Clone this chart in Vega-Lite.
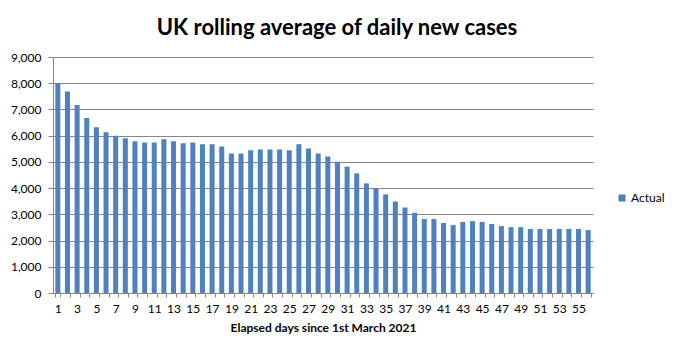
{
  "$schema": "https://vega.github.io/schema/vega-lite/v6.json",
  "autosize": "none",
  "width": 540,
  "height": 236,
  "padding": {"left": 53, "top": 57, "right": 83, "bottom": 63},
  "background": "white",
  "title": {
    "text": "UK rolling average of daily new cases",
    "font": "Lato",
    "fontSize": 22,
    "fontWeight": "bold",
    "color": "#000000",
    "anchor": "middle",
    "dx": 14,
    "offset": 11
  },
  "config": {
    "view": {"stroke": null},
    "font": "Lato"
  },
  "data": {
    "values": [
      {"day": 1, "cases": 8000, "series": "Actual"},
      {"day": 2, "cases": 7680, "series": "Actual"},
      {"day": 3, "cases": 7170, "series": "Actual"},
      {"day": 4, "cases": 6675, "series": "Actual"},
      {"day": 5, "cases": 6320, "series": "Actual"},
      {"day": 6, "cases": 6130, "series": "Actual"},
      {"day": 7, "cases": 5995, "series": "Actual"},
      {"day": 8, "cases": 5905, "series": "Actual"},
      {"day": 9, "cases": 5790, "series": "Actual"},
      {"day": 10, "cases": 5740, "series": "Actual"},
      {"day": 11, "cases": 5740, "series": "Actual"},
      {"day": 12, "cases": 5860, "series": "Actual"},
      {"day": 13, "cases": 5785, "series": "Actual"},
      {"day": 14, "cases": 5710, "series": "Actual"},
      {"day": 15, "cases": 5740, "series": "Actual"},
      {"day": 16, "cases": 5670, "series": "Actual"},
      {"day": 17, "cases": 5670, "series": "Actual"},
      {"day": 18, "cases": 5590, "series": "Actual"},
      {"day": 19, "cases": 5320, "series": "Actual"},
      {"day": 20, "cases": 5320, "series": "Actual"},
      {"day": 21, "cases": 5440, "series": "Actual"},
      {"day": 22, "cases": 5470, "series": "Actual"},
      {"day": 23, "cases": 5470, "series": "Actual"},
      {"day": 24, "cases": 5470, "series": "Actual"},
      {"day": 25, "cases": 5440, "series": "Actual"},
      {"day": 26, "cases": 5670, "series": "Actual"},
      {"day": 27, "cases": 5510, "series": "Actual"},
      {"day": 28, "cases": 5320, "series": "Actual"},
      {"day": 29, "cases": 5210, "series": "Actual"},
      {"day": 30, "cases": 5010, "series": "Actual"},
      {"day": 31, "cases": 4820, "series": "Actual"},
      {"day": 32, "cases": 4560, "series": "Actual"},
      {"day": 33, "cases": 4180, "series": "Actual"},
      {"day": 34, "cases": 4000, "series": "Actual"},
      {"day": 35, "cases": 3760, "series": "Actual"},
      {"day": 36, "cases": 3490, "series": "Actual"},
      {"day": 37, "cases": 3260, "series": "Actual"},
      {"day": 38, "cases": 3060, "series": "Actual"},
      {"day": 39, "cases": 2820, "series": "Actual"},
      {"day": 40, "cases": 2820, "series": "Actual"},
      {"day": 41, "cases": 2670, "series": "Actual"},
      {"day": 42, "cases": 2590, "series": "Actual"},
      {"day": 43, "cases": 2710, "series": "Actual"},
      {"day": 44, "cases": 2740, "series": "Actual"},
      {"day": 45, "cases": 2710, "series": "Actual"},
      {"day": 46, "cases": 2630, "series": "Actual"},
      {"day": 47, "cases": 2550, "series": "Actual"},
      {"day": 48, "cases": 2510, "series": "Actual"},
      {"day": 49, "cases": 2510, "series": "Actual"},
      {"day": 50, "cases": 2440, "series": "Actual"},
      {"day": 51, "cases": 2440, "series": "Actual"},
      {"day": 52, "cases": 2440, "series": "Actual"},
      {"day": 53, "cases": 2440, "series": "Actual"},
      {"day": 54, "cases": 2440, "series": "Actual"},
      {"day": 55, "cases": 2440, "series": "Actual"},
      {"day": 56, "cases": 2400, "series": "Actual"}
    ]
  },
  "mark": {"type": "bar"},
  "encoding": {
    "x": {
      "field": "day",
      "type": "ordinal",
      "sort": null,
      "scale": {"paddingInner": 0.48, "paddingOuter": 0.24},
      "axis": {
        "title": "Elapsed days since 1st March 2021",
        "titleFont": "Lato",
        "titleFontSize": 12,
        "titleFontWeight": "bold",
        "titleColor": "#000000",
        "titlePadding": 8,
        "labelAngle": 0,
        "labelFont": "Lato",
        "labelFontSize": 12,
        "labelColor": "#000000",
        "labelOverlap": false,
        "labelPadding": 6,
        "labelExpr": "datum.value % 2 == 1 ? datum.label : ''",
        "tickBand": "extent",
        "tickSize": 4,
        "tickColor": "#868686",
        "domainColor": "#868686",
        "grid": false
      }
    },
    "y": {
      "field": "cases",
      "type": "quantitative",
      "scale": {"domain": [0, 9000], "nice": false},
      "axis": {
        "title": null,
        "values": [0, 1000, 2000, 3000, 4000, 5000, 6000, 7000, 8000, 9000],
        "format": ",.0f",
        "labelFont": "Lato",
        "labelFontSize": 12,
        "labelColor": "#000000",
        "labelPadding": 7,
        "tickSize": 5,
        "tickColor": "#868686",
        "domainColor": "#868686",
        "gridColor": "#868686",
        "gridOpacity": 1
      }
    },
    "color": {
      "field": "series",
      "type": "nominal",
      "scale": {"range": ["#4F81BD"]},
      "legend": {
        "title": null,
        "orient": "none",
        "legendX": 563,
        "legendY": 135,
        "symbolType": "square",
        "symbolSize": 50,
        "symbolOpacity": 1,
        "labelFont": "Lato",
        "labelFontSize": 12,
        "labelColor": "#000000",
        "labelOffset": 3
      }
    }
  }
}
